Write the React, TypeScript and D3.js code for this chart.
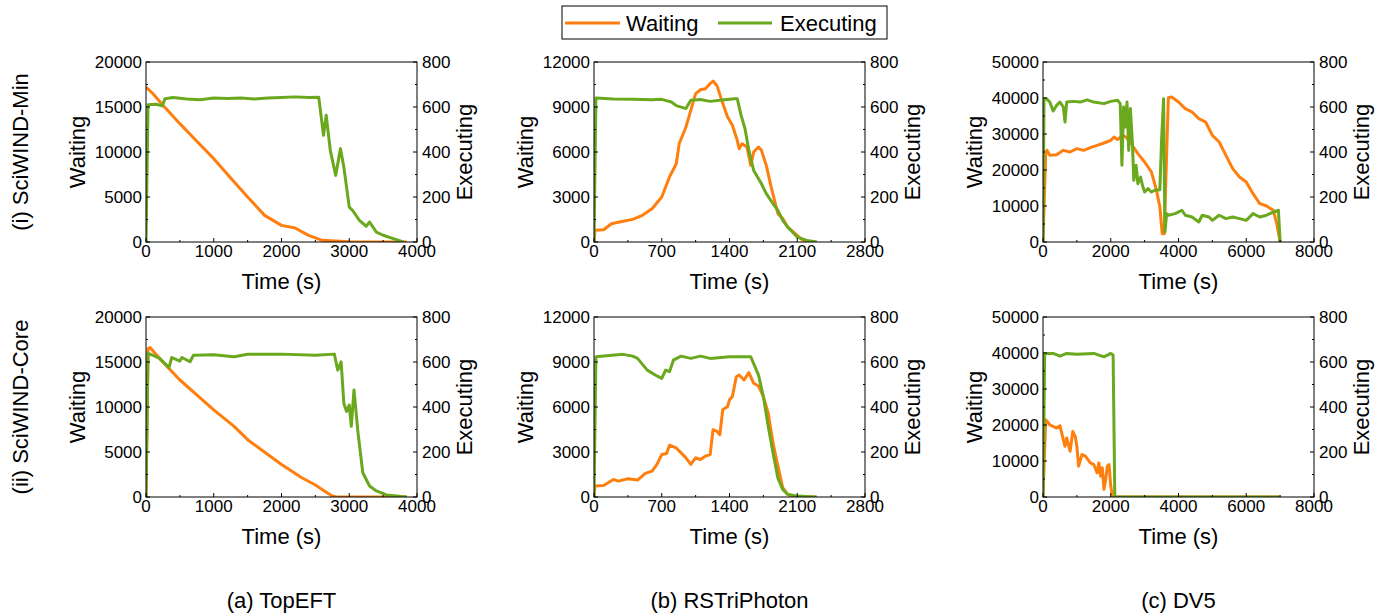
import * as d3 from "d3";

const ORANGE = "#ff7f0e";
const GREEN = "#6aa81e";
const FONT = "'Liberation Sans', Arial, sans-serif";

// ---- data: [time (s), value] ----
const topEftMinWaiting = [[0,17200],[100,16500],[250,15200],[500,13150],[750,11200],[1000,9260],[1250,7100],[1500,5000],[1750,2960],[2000,1850],[2200,1550],[2400,740],[2600,185],[3000,30],[3500,10],[3850,0]];
const topEftMinExec = [[0,0],[30,610],[150,612],[240,605],[280,637],[400,642],[600,636],[800,632],[1000,640],[1200,638],[1400,640],[1600,636],[1800,640],[2000,642],[2200,645],[2400,642],[2550,643],[2620,474],[2660,563],[2720,407],[2800,296],[2870,415],[2920,333],[3000,155],[3050,140],[3150,96],[3250,70],[3300,89],[3400,44],[3500,30],[3650,15],[3800,0]];

const rsMinWaiting = [[0,0],[10,780],[100,820],[180,1220],[300,1380],[400,1510],[500,1780],[600,2220],[700,3000],[780,4330],[850,5220],[880,6550],[950,7670],[1000,8780],[1050,9890],[1100,10150],[1150,10220],[1200,10560],[1230,10730],[1270,10440],[1320,9440],[1380,8330],[1430,7780],[1480,6780],[1500,6220],[1530,6550],[1580,6330],[1620,5110],[1650,6000],[1700,6330],[1730,6110],[1780,5110],[1830,3670],[1900,1890],[1950,1560],[2000,1000],[2100,440],[2150,150],[2200,40],[2300,0]];
const rsMinExec = [[0,0],[20,640],[200,636],[400,634],[600,632],[700,634],[800,622],[850,606],[950,593],[1000,630],[1100,633],[1200,625],[1300,630],[1450,637],[1480,637],[1520,563],[1560,504],[1600,407],[1650,318],[1700,281],[1730,259],[1780,215],[1850,170],[1900,141],[1950,96],[2000,67],[2100,22],[2200,7],[2300,0]];

const dv5MinWaiting = [[0,0],[80,24500],[120,25460],[200,24070],[400,24260],[600,25460],[800,25000],[1000,25930],[1200,25460],[1400,26200],[1600,26850],[1800,27500],[2000,28240],[2100,29170],[2200,28430],[2350,29630],[2450,29170],[2600,27310],[2800,24540],[3000,22220],[3200,19440],[3350,14350],[3450,9720],[3520,2310],[3580,2310],[3700,40090],[3800,40280],[4000,38890],[4200,37040],[4400,36110],[4600,34260],[4800,33330],[5000,29630],[5200,27780],[5400,24070],[5600,20370],[5800,18060],[6000,16670],[6200,13430],[6400,10650],[6600,10000],[6800,8800],[6900,5090],[7000,0]];
const dv5MinExec = [[0,0],[30,637],[100,637],[200,622],[300,582],[400,607],[500,622],[600,600],[650,533],[700,622],[900,625],[1100,622],[1300,632],[1500,622],[1800,615],[2000,625],[2200,630],[2280,615],[2330,341],[2380,600],[2430,511],[2480,622],[2530,407],[2580,593],[2640,437],[2680,274],[2750,341],[2800,259],[2880,289],[2950,244],[3000,222],[3100,237],[3200,222],[3300,230],[3450,232],[3500,452],[3560,637],[3600,44],[3650,126],[3700,119],[3900,126],[4100,141],[4200,119],[4400,111],[4600,89],[4700,119],[4900,111],[5000,96],[5200,119],[5400,104],[5600,111],[5800,104],[6000,96],[6200,126],[6400,111],[6600,119],[6800,133],[6950,141],[7000,0]];

const topEftCoreWaiting = [[0,0],[30,16500],[60,16600],[200,15400],[500,13000],[1000,9690],[1300,7850],[1500,6370],[2000,3610],[2300,2140],[2500,1330],[2650,590],[2750,110],[2800,20],[3000,0],[3850,0]];
const topEftCoreExec = [[0,0],[30,638],[100,630],[200,616],[340,575],[380,620],[500,604],[530,620],[650,601],[700,630],[1000,632],[1300,623],[1500,634],[2000,635],[2500,630],[2780,635],[2830,564],[2880,601],[2920,417],[2960,380],[3000,409],[3030,314],[3070,476],[3130,284],[3200,108],[3300,49],[3400,27],[3550,9],[3850,0]];

const rsCoreWaiting = [[0,0],[10,730],[100,770],[200,1170],[250,1060],[350,1220],[450,1130],[530,1570],[600,1720],[650,2170],[700,2830],[750,2900],[780,3450],[850,3270],[900,2940],[950,2610],[1000,2170],[1050,2610],[1100,2500],[1150,2720],[1200,2830],[1230,4490],[1270,4380],[1300,4150],[1330,5810],[1380,6030],[1400,6480],[1430,6700],[1470,8020],[1500,8130],[1550,7800],[1600,8290],[1650,7580],[1700,7400],[1750,6700],[1800,5590],[1850,3600],[1900,2060],[1950,620],[2000,180],[2050,60],[2100,10],[2300,0]];
const rsCoreExec = [[0,0],[20,623],[300,634],[400,626],[450,616],[550,564],[650,538],[700,527],[740,564],[780,557],[820,608],[900,626],[1000,616],[1100,626],[1200,616],[1400,623],[1620,623],[1700,542],[1750,446],[1800,314],[1850,196],[1900,84],[1950,34],[2000,12],[2100,4],[2300,0]];

const dv5CoreWaiting = [[0,0],[80,21450],[200,20070],[400,19150],[500,19800],[600,15930],[650,14090],[700,16390],[800,12710],[880,18230],[950,16850],[1000,14090],[1050,8560],[1150,11790],[1250,11330],[1400,9480],[1500,9020],[1600,6720],[1650,9480],[1700,5800],[1750,8100],[1800,2120],[1850,4880],[1900,8560],[1950,9020],[2000,3040],[2050,280],[2100,0],[7000,0]];
const dv5CoreExec = [[0,0],[50,638],[300,638],[500,626],[700,638],[1000,634],[1500,638],[1800,623],[2000,638],[2070,631],[2120,0],[7000,0]];

// ---- axes ----
const topEftTicks = [0, 1000, 2000, 3000, 4000];
const rsTicks = [0, 700, 1400, 2100, 2800];
const dv5Ticks = [0, 2000, 4000, 6000, 8000];
const topEftWaitTicks = [0, 5000, 10000, 15000, 20000];
const rsWaitTicks = [0, 3000, 6000, 9000, 12000];
const dv5WaitTicks = [0, 10000, 20000, 30000, 40000, 50000];
const execTicks = [0, 200, 400, 600, 800];

const columnLabels = ["(a) TopEFT", "(b) RSTriPhoton", "(c) DV5"];
const rowLabels = ["(i) SciWIND-Min", "(ii) SciWIND-Core"];

const columns = [
  { xTicks: topEftTicks, yTicks: topEftWaitTicks, left: 146 },
  { xTicks: rsTicks, yTicks: rsWaitTicks, left: 594 },
  { xTicks: dv5Ticks, yTicks: dv5WaitTicks, left: 1043 },
];
const rowTops = [62, 317];
const series = [
  [[topEftMinWaiting, topEftMinExec], [rsMinWaiting, rsMinExec], [dv5MinWaiting, dv5MinExec]],
  [[topEftCoreWaiting, topEftCoreExec], [rsCoreWaiting, rsCoreExec], [dv5CoreWaiting, dv5CoreExec]],
];

const W = 271;
const H = 180;

function halfTicks(ticks: number[]) {
  const out: number[] = [];
  for (let i = 0; i < ticks.length - 1; i++) out.push((ticks[i] + ticks[i + 1]) / 2);
  return out;
}

function Panel({ col, top, data }: any) {
  const { xTicks, yTicks, left } = col;
  const x = d3.scaleLinear().domain([0, xTicks[xTicks.length - 1]]).range([0, W]);
  const y = d3.scaleLinear().domain([0, yTicks[yTicks.length - 1]]).range([H, 0]);
  const yr = d3.scaleLinear().domain([0, 800]).range([H, 0]);
  const lineL = d3.line<number[]>().x((d) => x(d[0])).y((d) => y(d[1]));
  const lineR = d3.line<number[]>().x((d) => x(d[0])).y((d) => yr(d[1]));
  const [waiting, exec] = data;

  return (
    <g transform={`translate(${left},${top})`}>
      <defs>
        <clipPath id={`clip-${left}-${top}`}>
          <rect x={0} y={-2} width={W} height={H + 2} />
        </clipPath>
      </defs>
      <g clipPath={`url(#clip-${left}-${top})`}>
        <path d={lineL(waiting) || ""} fill="none" stroke={ORANGE} strokeWidth={3} strokeLinejoin="round" />
        <path d={lineR(exec) || ""} fill="none" stroke={GREEN} strokeWidth={3} strokeLinejoin="round" />
      </g>
      <rect x={0} y={0} width={W} height={H} fill="none" stroke="#000" strokeWidth={1} />
      {/* bottom ticks */}
      {xTicks.map((t: number) => (
        <g key={`x${t}`}>
          <line x1={x(t)} x2={x(t)} y1={H} y2={H - 4} stroke="#000" />
          <text x={x(t)} y={H + 15} textAnchor="middle" fontSize={17} fontFamily={FONT}>{t}</text>
        </g>
      ))}
      {halfTicks(xTicks).map((t) => (
        <line key={`xm${t}`} x1={x(t)} x2={x(t)} y1={H} y2={H - 2} stroke="#000" />
      ))}
      {/* left ticks */}
      {yTicks.map((t: number) => (
        <g key={`y${t}`}>
          <line x1={0} x2={4} y1={y(t)} y2={y(t)} stroke="#000" />
          <text x={-4} y={y(t) + 6} textAnchor="end" fontSize={17} fontFamily={FONT}>{t}</text>
        </g>
      ))}
      {halfTicks(yTicks).map((t) => (
        <line key={`ym${t}`} x1={0} x2={2} y1={y(t)} y2={y(t)} stroke="#000" />
      ))}
      {/* right ticks */}
      {execTicks.map((t) => (
        <g key={`r${t}`}>
          <line x1={W} x2={W - 4} y1={yr(t)} y2={yr(t)} stroke="#000" />
          <text x={W + 5} y={yr(t) + 6} textAnchor="start" fontSize={17} fontFamily={FONT}>{t}</text>
        </g>
      ))}
      {halfTicks(execTicks).map((t) => (
        <line key={`rm${t}`} x1={W} x2={W - 2} y1={yr(t)} y2={yr(t)} stroke="#000" />
      ))}
      <text transform={`translate(${-61},${H / 2}) rotate(-90)`} textAnchor="middle" fontSize={22} fontFamily={FONT}>Waiting</text>
      <text transform={`translate(${W + 55},${H / 2}) rotate(-90)`} textAnchor="middle" fontSize={22} fontFamily={FONT}>Executing</text>
      <text x={W / 2} y={H + 47} textAnchor="middle" fontSize={22} fontFamily={FONT}>Time (s)</text>
    </g>
  );
}

export default function App() {
  return (
    <svg width={1390} height={616} style={{ position: "absolute", left: 0, top: 0, background: "#fff" }}>
      {/* legend */}
      <rect x={562} y={6} width={325} height={33} fill="#fff" stroke="#000" strokeWidth={1} />
      <line x1={565} x2={620} y1={23} y2={23} stroke={ORANGE} strokeWidth={3} />
      <text x={626} y={31} fontSize={22} fontFamily={FONT}>Waiting</text>
      <line x1={718} x2={772} y1={23} y2={23} stroke={GREEN} strokeWidth={3} />
      <text x={780} y={31} fontSize={22} fontFamily={FONT}>Executing</text>

      {rowTops.map((top, r) =>
        columns.map((col, c) => <Panel key={`${r}-${c}`} col={col} top={top} data={series[r][c]} />)
      )}

      {rowLabels.map((lab, r) => (
        <text key={lab} transform={`translate(28,${rowTops[r] + H / 2}) rotate(-90)`} textAnchor="middle" fontSize={22} fontFamily={FONT}>{lab}</text>
      ))}
      {columnLabels.map((lab, c) => (
        <text key={lab} x={columns[c].left + W / 2} y={608} textAnchor="middle" fontSize={22} fontFamily={FONT}>{lab}</text>
      ))}
    </svg>
  );
}
